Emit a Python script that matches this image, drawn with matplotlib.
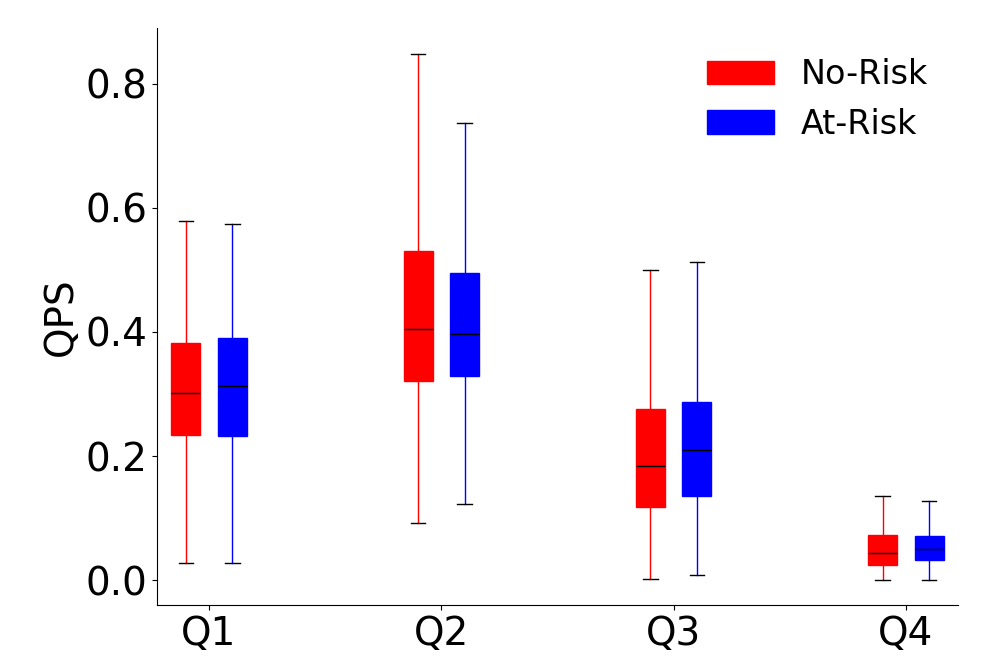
import matplotlib
matplotlib.use("Agg")
import matplotlib.pyplot as plt
from matplotlib.patches import Patch

quarters = ["Q1", "Q2", "Q3", "Q4"]
groups = ["No-Risk", "At-Risk"]
colors = {"No-Risk": "red", "At-Risk": "blue"}

# five-number summaries: low whisker, q1, median, q3, high whisker
no_risk_low = [0.027, 0.092, 0.002, 0.000]
no_risk_q1 = [0.234, 0.321, 0.118, 0.024]
no_risk_med = [0.302, 0.405, 0.184, 0.044]
no_risk_q3 = [0.382, 0.531, 0.276, 0.073]
no_risk_high = [0.579, 0.848, 0.500, 0.135]

at_risk_low = [0.027, 0.123, 0.008, 0.000]
at_risk_q1 = [0.232, 0.329, 0.135, 0.032]
at_risk_med = [0.313, 0.397, 0.210, 0.050]
at_risk_q3 = [0.390, 0.495, 0.287, 0.071]
at_risk_high = [0.574, 0.737, 0.513, 0.127]

SUMMARY = {
    "No-Risk": (no_risk_low, no_risk_q1, no_risk_med, no_risk_q3, no_risk_high),
    "At-Risk": (at_risk_low, at_risk_q1, at_risk_med, at_risk_q3, at_risk_high),
}
OFFSET = {"No-Risk": -0.1, "At-Risk": 0.1}


def stats_for(name):
    lo, q1, med, q3, hi = SUMMARY[name]
    return [dict(whislo=lo[i], q1=q1[i], med=med[i], q3=q3[i], whishi=hi[i], fliers=[])
            for i in range(len(quarters))]


fig = plt.figure(figsize=(10, 6.66), dpi=100)
ax = fig.add_axes([0.157, 0.0916, 0.801, 0.8664])

for name in groups:
    c = colors[name]
    pos = [i + 1 + OFFSET[name] for i in range(len(quarters))]
    ax.bxp(stats_for(name), positions=pos, widths=0.125, patch_artist=True,
           showfliers=False,
           boxprops=dict(facecolor=c, edgecolor=c, linewidth=1),
           whiskerprops=dict(color=c, linewidth=1),
           capprops=dict(color="black", linewidth=1),
           medianprops=dict(color="black", linewidth=1))

ax.set_xlim(0.776, 4.224)
ax.set_ylim(-0.040, 0.890)
ax.set_xticks(range(1, len(quarters) + 1))
ax.set_xticklabels(quarters)
ax.set_yticks([0.0, 0.2, 0.4, 0.6, 0.8])
ax.tick_params(labelsize=28)
ax.set_ylabel("QPS", fontsize=28)
ax.spines["top"].set_visible(False)
ax.spines["right"].set_visible(False)

handles = [Patch(facecolor=colors[g], edgecolor=colors[g], label=g) for g in groups]
ax.legend(handles=handles, frameon=False, fontsize=24, loc="upper right",
          bbox_to_anchor=(1.0, 1.0))

fig.savefig("out.png", dpi=100)
